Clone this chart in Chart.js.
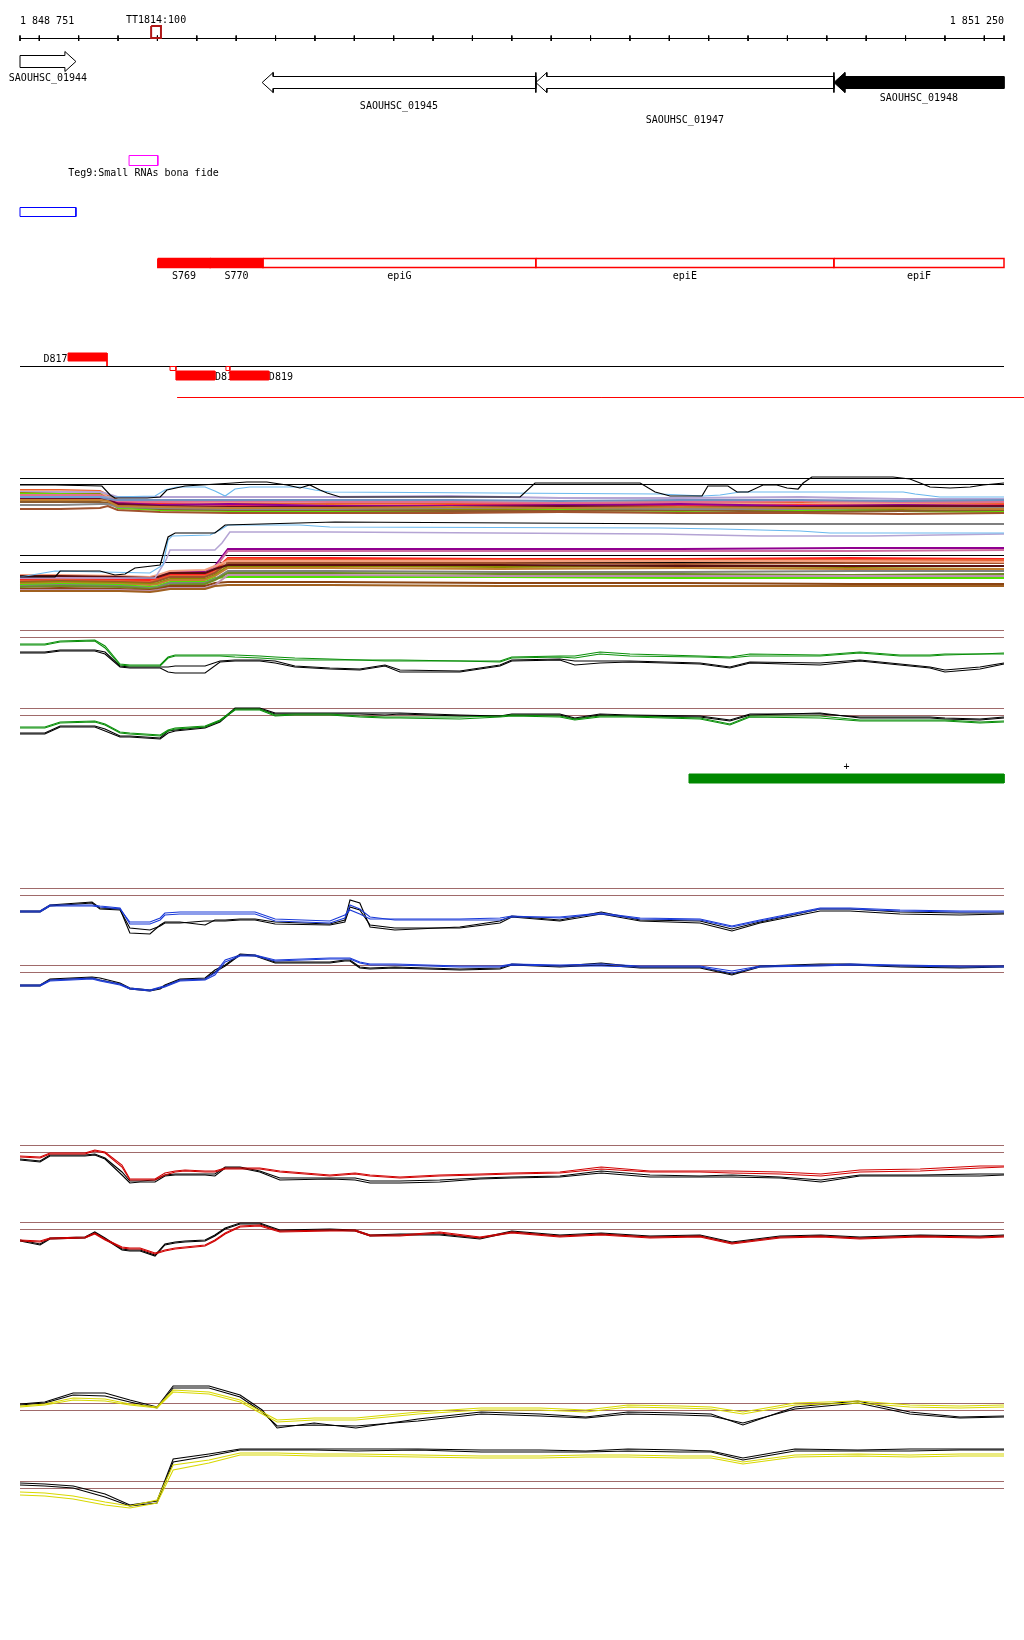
<!DOCTYPE html>
<html lang="pt-br">
<head>
<meta charset="utf-8">
<title>SAOUHSC_01944 - SAOUHSC_01948</title>
<script src="https://cdn.jsdelivr.net/npm/chart.js@4.4.1/dist/chart.umd.min.js"></script>
<style>
    html, body { margin: 0; padding: 0; background: #ffffff; }
    canvas { display: block; }
</style>
</head>
<body>
<canvas id="chart_genoma" width="1024" height="1640"></canvas>
<script>
// TRECHO DO GENOMA (pb)
const inicio = 1848751;
const fim = 1851250;
const marcas_regua = [];
for (var p = 1848800; p < fim; p += 100) { marcas_regua.push(p); }
const rotulos_regua = ['1 848 751', '1 851 250'];

// GENES
const genes_nome = ['SAOUHSC_01944', 'SAOUHSC_01945', 'SAOUHSC_01947', 'SAOUHSC_01948'];
const genes_inicio = [1848751, 1849366, 1850061, 1850818];
const genes_fim = [1848893, 1850061, 1850818, 1851250];
const genes_fita = ['+', '-', '-', '-'];

// TERMINADOR E RNA PEQUENO
const terminador = ['TT1814:100', 1849084, 1849109];
const rna_pequeno = ['Teg9:Small RNAs bona fide', 1849028, 1849101];
const caixa_azul = [1848751, 1848893];

// REGIOES (faixa vermelha)
const regioes_nome = ['S769', 'S770', 'epiG', 'epiE', 'epiF'];
const regioes_inicio = [1849101, 1849234, 1849368, 1850061, 1850818];
const regioes_fim = [1849234, 1849368, 1850061, 1850818, 1851250];
const regioes_cheia = [true, true, false, false, false];

const dmarcas_nome = ['D817', 'D818', 'D819'];
const dmarcas_inicio = [1848873, 1849147, 1849284];
const dmarcas_fim = [1848972, 1849246, 1849383];
const linha_vermelha = [1849150, 1851320];
const barra_verde = ['+', 1850450, 1851250];

// FAIXAS DENSAS
const denso1_x = [1848751, 1848853, 1848954, 1848974, 1848999, 1849107, 1849284, 1849538, 1849843, 1850122, 1850427, 1850732, 1850986, 1851250];
const denso1_valores = [
    [490, 490, 491, 495, 500, 501, 503, 504, 503, 503, 502, 503, 504, 503],
    [491, 491, 492, 497, 502, 503, 502, 501, 502, 503, 503, 504, 503, 502],
    [492, 492, 492, 494, 497, 497, 497, 497, 496, 498, 498, 497, 499, 499],
    [493, 494, 494, 499, 505, 508, 508, 510, 509, 509, 510, 508, 510, 511],
    [494, 494, 495, 500, 508, 510, 511, 511, 512, 510, 511, 510, 511, 512],
    [496, 496, 496, 499, 503, 504, 505, 506, 505, 504, 506, 505, 506, 505],
    [497, 497, 497, 500, 503, 505, 504, 506, 506, 505, 504, 506, 505, 506],
    [502, 502, 502, 503, 506, 509, 510, 510, 511, 511, 510, 512, 511, 510],
    [505, 505, 504, 504, 507, 508, 509, 509, 508, 508, 509, 509, 508, 508],
    [509, 509, 508, 506, 510, 512, 513, 513, 513, 512, 513, 513, 514, 513],
    [495, 495, 495, 498, 501, 502, 501, 502, 502, 503, 502, 501, 502, 502],
    [498, 498, 498, 500, 504, 506, 507, 507, 507, 506, 507, 507, 506, 506],
    [500, 500, 500, 501, 506, 507, 508, 508, 507, 508, 507, 508, 508, 509],
    [497, 497, 497, 499, 500, 500, 500, 500, 500, 501, 500, 500, 501, 500]
];
const denso1_cores = ['#e8602c', '#f4a080', '#b4a4d4', '#8a8a00', '#60e000', '#ff3333', '#900090',
    '#8b5a2b', '#888888', '#a0522d', '#e07090', '#6a0a2a', '#c08030', '#7090c0'];
const denso1_preto_x = [1848751, 1848840, 1848959, 1848980, 1848992, 1849074, 1849107, 1849124, 1849170, 1849292,
    1849327, 1849378, 1849394, 1849429, 1849462, 1849487, 1849513, 1849531, 1849564, 1850021,
    1850059, 1850326, 1850364, 1850402, 1850483, 1850498, 1850549, 1850572, 1850600, 1850638,
    1850673, 1850699, 1850727, 1850740, 1850762, 1850968, 1851011, 1851037, 1851062, 1851113,
    1851164, 1851197, 1851250];
const denso1_preto_y = [485, 485, 486, 495, 498, 498, 497, 490, 486, 483,
    482, 482, 483, 485, 488, 485, 490, 493, 497, 497,
    483, 483, 492, 496, 496, 486, 486, 492, 492, 485,
    485, 488, 489, 483, 477, 477, 479, 483, 487, 488,
    487, 485, 483];
const denso1_celeste_x = [1848751, 1848980, 1849094, 1849119, 1849150, 1849221, 1849246, 1849272, 1849297, 1849335,
    1849462, 1849500, 1849538, 1850376, 1850486, 1850529, 1850580, 1850994, 1851024, 1851087, 1851250];
const denso1_celeste_y = [497, 497, 496, 490, 487, 487, 491, 496, 489, 487,
    487, 490, 492, 494, 496, 495, 492, 492, 494, 497, 497];

const denso2_x = [1848751, 1848853, 1849005, 1849081, 1849101, 1849132, 1849221, 1849246, 1849279, 1849538, 1849970, 1850427, 1850859, 1851250];
const denso2_valores = [
    [578, 576, 577, 578, 576, 572, 572, 566, 549, 549, 549, 549, 548, 548],
    [579, 577, 578, 579, 577, 574, 573, 568, 551, 551, 551, 551, 551, 550],
    [580, 579, 580, 580, 579, 575, 575, 570, 558, 558, 559, 559, 558, 559],
    [581, 580, 581, 582, 580, 576, 576, 572, 559, 560, 560, 560, 560, 560],
    [582, 581, 582, 583, 581, 577, 577, 573, 563, 563, 563, 564, 563, 563],
    [583, 582, 583, 584, 583, 579, 579, 575, 566, 566, 567, 566, 567, 566],
    [584, 583, 584, 585, 584, 580, 580, 576, 568, 568, 569, 568, 569, 569],
    [585, 584, 585, 587, 586, 582, 582, 578, 577, 577, 577, 578, 578, 578],
    [575, 575, 576, 577, 575, 571, 570, 566, 561, 561, 561, 561, 561, 562],
    [586, 585, 586, 588, 587, 583, 583, 579, 571, 571, 572, 572, 571, 571],
    [576, 576, 577, 578, 577, 573, 573, 569, 565, 565, 565, 566, 566, 566],
    [587, 586, 587, 589, 588, 585, 584, 580, 573, 573, 574, 574, 575, 574],
    [589, 588, 589, 590, 589, 586, 586, 583, 582, 582, 583, 583, 584, 584],
    [590, 590, 590, 591, 590, 588, 588, 585, 575, 575, 576, 576, 576, 576],
    [591, 591, 591, 592, 591, 589, 589, 586, 585, 585, 586, 586, 586, 586]
];
const denso2_cores = ['#900090', '#d070a0', '#ff2020', '#e86030', '#a0522d', '#8a8a00', '#c08030',
    '#50e000', '#f4a080', '#808080', '#5a1010', '#6b8e23', '#8b4513', '#c090b0', '#a06020'];
const denso2_preto_x = [1848751, 1848840, 1848853, 1848954, 1848992, 1849018, 1849043, 1849107, 1849127, 1849145, 1849246, 1849272, 1849551, 1850478, 1851250];
const denso2_preto_y = [577, 577, 571, 571, 575, 574, 568, 565, 537, 533, 533, 525, 522, 524, 524];
const denso2_celeste_x = [1848751, 1848840, 1849081, 1849114, 1849127, 1849137, 1849234, 1849259, 1849279, 1849462, 1849538, 1850376, 1850529, 1850732, 1850808, 1851250];
const denso2_celeste_y = [577, 571, 573, 565, 540, 536, 535, 530, 525, 525, 527, 528, 529, 531, 533, 533];
const denso2_lilas_x = [1848751, 1849094, 1849122, 1849132, 1849246, 1849264, 1849284, 1849538, 1850376, 1850630, 1850910, 1851250];
const denso2_lilas_y = [578, 578, 560, 550, 550, 543, 532, 532, 534, 536, 536, 534];

// PAINEIS VERDES
const verde_x = [1848751, 1848814, 1848853, 1848941, 1848967, 1849005, 1849030, 1849107, 1849127, 1849145,
    1849221, 1849259, 1849297, 1849360, 1849399, 1849449, 1849538, 1849614, 1849678, 1849716,
    1849868, 1849970, 1850000, 1850122, 1850160, 1850224, 1850300, 1850478, 1850554, 1850605,
    1850783, 1850884, 1850986, 1851062, 1851100, 1851189, 1851250];
const verde_limites = [630.5, 637.5, 708.5, 715.5];
const verde1_cor_a = [644, 644, 641, 640, 646, 664, 665, 665, 657, 655, 655, 655, 655, 656, 657, 658, 659, 660, 660, 660, 661, 661, 657, 656, 656, 652, 654, 656, 657, 654, 655, 652, 655, 655, 654, 654, 653];
const verde1_cor_b = [645, 645, 642, 641, 648, 665, 666, 666, 658, 656, 656, 656, 657, 658, 659, 660, 660, 660, 661, 661, 661, 662, 658, 657, 658, 654, 656, 657, 658, 656, 656, 653, 656, 656, 655, 654, 654];
const verde1_preto_a = [652, 652, 650, 650, 652, 666, 667, 667, 667, 666, 666, 661, 660, 660, 661, 666, 668, 669, 665, 670, 671, 665, 660, 659, 661, 661, 661, 663, 667, 662, 663, 660, 664, 667, 670, 667, 663];
const verde1_preto_b = [653, 653, 651, 651, 654, 667, 668, 668, 672, 673, 673, 662, 661, 661, 663, 667, 669, 670, 666, 672, 672, 666, 661, 660, 665, 663, 662, 664, 668, 663, 665, 661, 665, 668, 672, 669, 664];
const verde2_cor_a = [727, 727, 722, 721, 724, 732, 733, 735, 730, 728, 726, 720, 709, 709, 715, 714, 714, 716, 717, 717, 717, 716, 715, 716, 719, 716, 716, 718, 724, 716, 716, 720, 720, 720, 720, 722, 721];
const verde2_cor_b = [728, 728, 723, 722, 725, 733, 734, 736, 731, 729, 727, 721, 710, 710, 716, 715, 715, 717, 718, 718, 719, 717, 716, 717, 720, 717, 717, 719, 725, 717, 718, 721, 721, 721, 721, 723, 722];
const verde2_preto_a = [733, 733, 726, 726, 729, 736, 736, 738, 731, 730, 727, 721, 708, 708, 713, 713, 713, 713, 713, 713, 715, 716, 714, 714, 718, 714, 715, 716, 720, 714, 714, 717, 717, 717, 718, 719, 717];
const verde2_preto_b = [734, 734, 727, 727, 731, 737, 737, 739, 733, 731, 728, 722, 709, 709, 714, 714, 714, 714, 715, 714, 716, 716, 715, 715, 719, 715, 716, 717, 721, 715, 713, 718, 718, 718, 719, 720, 718];

// PAINEIS AZUIS
const azul_x = [1848751, 1848802, 1848827, 1848934, 1848954, 1849005, 1849030, 1849081, 1849107, 1849119,
    1849157, 1849221, 1849246, 1849272, 1849310, 1849348, 1849399, 1849538, 1849576, 1849589,
    1849614, 1849640, 1849703, 1849868, 1849970, 1850000, 1850122, 1850227, 1850326, 1850478,
    1850559, 1850630, 1850783, 1850859, 1850986, 1851138, 1851250];
const azul_limites = [888.5, 895.5, 965.5, 972.5];
const azul1_cor_a = [911, 911, 905, 905, 906, 908, 924, 924, 920, 915, 914, 914, 914, 914, 914, 914, 921, 923, 918, 905, 909, 917, 920, 920, 920, 917, 917, 913, 918, 919, 926, 920, 908, 908, 910, 911, 911];
const azul1_cor_b = [912, 912, 906, 906, 907, 909, 922, 922, 918, 913, 912, 912, 912, 912, 912, 912, 919, 921, 915, 910, 914, 919, 919, 919, 918, 916, 918, 914, 919, 920, 927, 921, 909, 909, 911, 912, 912];
const azul1_preto_a = [911, 911, 905, 902, 908, 909, 933, 934, 925, 922, 922, 925, 920, 920, 919, 919, 922, 924, 920, 900, 903, 927, 930, 927, 921, 916, 920, 912, 920, 921, 929, 922, 909, 909, 912, 913, 913];
const azul1_preto_b = [912, 912, 906, 903, 909, 910, 928, 930, 926, 923, 923, 921, 921, 921, 920, 920, 924, 925, 922, 907, 910, 925, 928, 928, 923, 917, 921, 914, 921, 923, 931, 923, 911, 911, 914, 915, 914];
const azul2_cor_a = [985, 985, 980, 978, 980, 984, 988, 990, 987, 986, 980, 979, 973, 960, 955, 955, 960, 958, 958, 958, 962, 964, 964, 966, 966, 964, 965, 964, 966, 966, 971, 966, 965, 964, 965, 966, 966];
const azul2_cor_b = [986, 986, 981, 979, 981, 985, 989, 991, 988, 987, 981, 980, 975, 962, 956, 956, 961, 959, 959, 959, 963, 965, 965, 967, 967, 965, 966, 966, 967, 967, 973, 967, 966, 965, 966, 967, 967];
const azul2_preto_a = [985, 985, 979, 977, 978, 983, 988, 990, 988, 985, 979, 978, 970, 965, 954, 955, 962, 962, 960, 960, 967, 968, 967, 969, 968, 964, 966, 963, 967, 967, 974, 966, 964, 964, 966, 967, 966];
const azul2_preto_b = [986, 986, 980, 978, 980, 984, 989, 991, 989, 986, 980, 979, 972, 966, 955, 956, 963, 963, 961, 961, 968, 969, 968, 970, 969, 965, 967, 965, 968, 968, 975, 967, 965, 965, 967, 968, 967];

// PAINEIS VERMELHOS
const vermelho_x = [1848751, 1848802, 1848827, 1848916, 1848941, 1848967, 1849010, 1849030, 1849056, 1849094,
    1849119, 1849145, 1849170, 1849221, 1849246, 1849272, 1849310, 1849360, 1849411, 1849538,
    1849602, 1849640, 1849716, 1849817, 1849919, 1850000, 1850122, 1850227, 1850351, 1850478,
    1850559, 1850681, 1850785, 1850884, 1851037, 1851189, 1851250];
const vermelho_limites = [1145.5, 1152.5, 1222.5, 1229.5];
const vermelho1_cor_a = [1156, 1157, 1153, 1153, 1150, 1152, 1165, 1179, 1179, 1179, 1173, 1171, 1170, 1171, 1171, 1168, 1168, 1168, 1171, 1175, 1173, 1175, 1177, 1175, 1174, 1173, 1172, 1167, 1171, 1171, 1171, 1172, 1174, 1170, 1169, 1166, 1166];
const vermelho1_cor_b = [1157, 1158, 1154, 1154, 1151, 1153, 1167, 1180, 1180, 1180, 1175, 1172, 1171, 1172, 1172, 1169, 1169, 1169, 1172, 1176, 1174, 1176, 1178, 1176, 1175, 1174, 1173, 1169, 1172, 1172, 1173, 1174, 1176, 1172, 1171, 1168, 1167];
const vermelho1_preto_a = [1160, 1162, 1156, 1156, 1155, 1159, 1175, 1183, 1182, 1182, 1176, 1175, 1175, 1175, 1176, 1168, 1168, 1172, 1180, 1179, 1180, 1183, 1183, 1182, 1179, 1178, 1177, 1173, 1177, 1177, 1177, 1178, 1182, 1176, 1176, 1176, 1175];
const vermelho1_preto_b = [1159, 1161, 1155, 1155, 1154, 1158, 1172, 1181, 1181, 1180, 1175, 1174, 1174, 1174, 1174, 1167, 1167, 1171, 1178, 1178, 1178, 1181, 1181, 1180, 1178, 1177, 1176, 1171, 1175, 1176, 1175, 1177, 1180, 1175, 1175, 1174, 1174];
const vermelho2_cor_a = [1240, 1241, 1238, 1237, 1233, 1239, 1247, 1248, 1248, 1253, 1250, 1248, 1247, 1245, 1240, 1233, 1226, 1225, 1231, 1230, 1230, 1235, 1235, 1232, 1237, 1232, 1236, 1234, 1237, 1236, 1243, 1237, 1236, 1238, 1236, 1237, 1236];
const vermelho2_cor_b = [1241, 1242, 1239, 1238, 1234, 1240, 1248, 1249, 1249, 1254, 1251, 1249, 1248, 1246, 1241, 1234, 1227, 1226, 1232, 1231, 1231, 1236, 1236, 1233, 1238, 1233, 1237, 1235, 1238, 1237, 1244, 1238, 1237, 1239, 1237, 1238, 1237];
const vermelho2_preto_a = [1240, 1244, 1238, 1237, 1232, 1238, 1249, 1250, 1250, 1255, 1244, 1242, 1241, 1240, 1235, 1228, 1223, 1223, 1230, 1229, 1230, 1235, 1234, 1234, 1238, 1231, 1235, 1233, 1236, 1235, 1242, 1236, 1235, 1237, 1235, 1236, 1235];
const vermelho2_preto_b = [1241, 1245, 1239, 1238, 1233, 1239, 1250, 1251, 1251, 1256, 1245, 1243, 1242, 1241, 1236, 1229, 1224, 1224, 1231, 1230, 1231, 1236, 1235, 1235, 1239, 1232, 1236, 1234, 1237, 1236, 1243, 1237, 1236, 1238, 1236, 1237, 1236];

// PAINEIS AMARELOS
const amarelo_x = [1848751, 1848814, 1848886, 1848967, 1849030, 1849099, 1849140, 1849231, 1849310, 1849366,
    1849404, 1849498, 1849604, 1849762, 1849922, 1850072, 1850188, 1850295, 1850427, 1850506,
    1850587, 1850719, 1850879, 1851011, 1851138, 1851250];
const amarelo_limites = [1403.5, 1410.5, 1481.5, 1488.5];
const amarelo1_preto_a = [1404, 1402, 1393, 1393, 1400, 1407, 1386, 1386, 1395, 1410, 1428, 1423, 1428, 1419, 1412, 1414, 1417, 1412, 1413, 1414, 1425, 1407, 1401, 1412, 1417, 1416];
const amarelo1_preto_b = [1405, 1403, 1395, 1396, 1402, 1408, 1388, 1388, 1397, 1412, 1426, 1425, 1426, 1421, 1414, 1416, 1418, 1414, 1415, 1416, 1423, 1409, 1403, 1414, 1418, 1417];
const amarelo1_cor_a = [1406, 1404, 1398, 1399, 1404, 1407, 1390, 1392, 1400, 1412, 1420, 1418, 1418, 1412, 1408, 1408, 1410, 1405, 1406, 1407, 1412, 1403, 1401, 1405, 1406, 1405];
const amarelo1_cor_b = [1407, 1405, 1400, 1401, 1405, 1408, 1392, 1394, 1402, 1414, 1422, 1420, 1420, 1414, 1410, 1410, 1412, 1407, 1408, 1409, 1414, 1405, 1403, 1407, 1408, 1407];
const amarelo2_preto_a = [1483, 1484, 1486, 1494, 1505, 1501, 1459, 1454, 1449, 1449, 1449, 1449, 1449, 1449, 1450, 1450, 1451, 1449, 1450, 1451, 1458, 1449, 1450, 1449, 1449, 1449];
const amarelo2_preto_b = [1485, 1486, 1488, 1497, 1506, 1503, 1462, 1456, 1450, 1450, 1450, 1450, 1451, 1450, 1452, 1452, 1452, 1451, 1452, 1452, 1460, 1451, 1451, 1451, 1450, 1450];
const amarelo2_cor_a = [1492, 1493, 1496, 1502, 1506, 1500, 1465, 1460, 1453, 1453, 1453, 1454, 1454, 1455, 1456, 1456, 1455, 1455, 1456, 1456, 1462, 1455, 1454, 1455, 1454, 1454];
const amarelo2_cor_b = [1495, 1496, 1499, 1505, 1508, 1503, 1470, 1463, 1455, 1455, 1455, 1456, 1456, 1457, 1458, 1458, 1457, 1457, 1458, 1458, 1464, 1457, 1456, 1457, 1456, 1456];


// LAYOUT (pixels da tela)
const bpPorPx = (fim - inicio) / 984;
const genes_y = [61.5, 82.5, 82.5, 82.5];
const genes_rotulo_y = [81, 109, 122.5, 101];
const genes_cheio = [false, false, false, true];
const cor_limite = '#a06a6a';

var conjuntos = [];

function serie(xs, ys, cor, largura) {
    return {
        data: xs.map(function (x, i) { return { x: x, y: ys[i] }; }),
        borderColor: cor,
        borderWidth: largura || 1,
        pointRadius: 0,
        fill: false,
        tension: 0
    };
}

function caixa(x0, x1, y0, y1, cor, cheia, largura) {
    return {
        data: [{ x: x0, y: y0 }, { x: x1, y: y0 }, { x: x1, y: y1 }, { x: x0, y: y1 }, { x: x0, y: y0 }],
        borderColor: cor,
        backgroundColor: cor,
        borderWidth: largura || 1,
        fill: cheia ? 'shape' : false,
        pointRadius: 0,
        tension: 0
    };
}

function seta(ini, fimG, fita, yc, cheia) {
    var cab = 11 * bpPorPx;
    var c = 6, h = 10;
    var xs, ys;
    if (fita == '+') {
        xs = [ini, fimG - cab, fimG - cab, fimG, fimG - cab, fimG - cab, ini, ini];
        ys = [yc - c, yc - c, yc - h, yc, yc + h, yc + c, yc + c, yc - c];
    } else {
        xs = [ini, ini + cab, ini + cab, fimG, fimG, ini + cab, ini + cab, ini];
        ys = [yc, yc - h, yc - c, yc - c, yc + c, yc + c, yc + h, yc];
    }
    var s = serie(xs, ys, '#000000', 1);
    if (cheia) {
        s.fill = 'shape';
        s.backgroundColor = '#000000';
    }
    return s;
}

function painel(xs, limites, linhas, cor) {
    limites.forEach(function (v) {
        conjuntos.push(serie([inicio, fim], [v, v], cor_limite, 1));
    });
    linhas.forEach(function (l, i) {
        conjuntos.push(serie(xs, l, i < 2 ? '#000000' : cor, 1.1));
    });
}

// REGUA
conjuntos.push(serie([inicio, fim], [38.5, 38.5], '#000000', 1));
var tracos = [];
marcas_regua.concat([inicio, fim]).forEach(function (m) {
    tracos.push({ x: m, y: 35.5 }, { x: m, y: 41 }, { x: m, y: null });
});
conjuntos.push({ data: tracos, borderColor: '#000000', borderWidth: 1, pointRadius: 0, fill: false, spanGaps: false });
conjuntos.push(caixa(terminador[1], terminador[2], 26, 38, '#b01818', false, 2));

// GENES
for (var i = 0; i < genes_nome.length; i++) {
    conjuntos.push(seta(genes_inicio[i], genes_fim[i], genes_fita[i], genes_y[i], genes_cheio[i]));
    if (genes_fita[i] == '-' && !genes_cheio[i]) {
        conjuntos.push(serie([genes_fim[i], genes_fim[i]], [genes_y[i] - 10, genes_y[i] + 10], '#000000', 1));
    }
}

conjuntos.push(caixa(rna_pequeno[1], rna_pequeno[2], 155.5, 165.5, '#ff00ff', false, 1));
conjuntos.push(caixa(caixa_azul[0], caixa_azul[1], 207.5, 216.5, '#0000ff', false, 1));

for (var i = 0; i < regioes_nome.length; i++) {
    conjuntos.push(caixa(regioes_inicio[i], regioes_fim[i], 258.5, 267.5, '#ff0000', regioes_cheia[i], 1.5));
}

// D817 - D819
conjuntos.push(serie([inicio, fim], [366.5, 366.5], '#000000', 1));
conjuntos.push(caixa(dmarcas_inicio[0], dmarcas_fim[0], 353, 361, '#ff0000', true, 1));
conjuntos.push(serie([dmarcas_fim[0], dmarcas_fim[0]], [361, 366], '#ff0000', 1));
conjuntos.push(caixa(1849132, dmarcas_inicio[1], 366.5, 370.5, '#ff0000', false, 1));
conjuntos.push(caixa(1849274, dmarcas_inicio[2], 366.5, 370.5, '#ff0000', false, 1));
conjuntos.push(caixa(dmarcas_inicio[1], dmarcas_fim[1], 371, 380, '#ff0000', true, 1));
conjuntos.push(caixa(dmarcas_inicio[2], dmarcas_fim[2], 371, 380, '#ff0000', true, 1));
conjuntos.push(serie(linha_vermelha, [397.5, 397.5], '#ff0000', 1));

// FAIXAS DENSAS
[478.5, 484.5, 555.5, 562.5].forEach(function (v) {
    conjuntos.push(serie([inicio, fim], [v, v], '#000000', 1));
});
denso1_valores.forEach(function (l, i) { conjuntos.push(serie(denso1_x, l, denso1_cores[i], 2)); });
conjuntos.push(serie(denso1_celeste_x, denso1_celeste_y, '#6ab8ee', 1.2));
conjuntos.push(serie(denso1_preto_x, denso1_preto_y, '#000000', 1.2));
denso2_valores.forEach(function (l, i) { conjuntos.push(serie(denso2_x, l, denso2_cores[i], 2)); });
conjuntos.push(serie(denso2_lilas_x, denso2_lilas_y, '#b4a4d4', 1.5));
conjuntos.push(serie(denso2_celeste_x, denso2_celeste_y, '#6ab8ee', 1.2));
conjuntos.push(serie(denso2_preto_x, denso2_preto_y, '#000000', 1.2));

// PAINEIS DE LINHAS
painel(verde_x, verde_limites, [verde1_preto_a, verde1_preto_b, verde1_cor_a, verde1_cor_b], '#0a8f0a');
painel(verde_x, [], [verde2_preto_a, verde2_preto_b, verde2_cor_a, verde2_cor_b], '#0a8f0a');
conjuntos.push(caixa(barra_verde[1], barra_verde[2], 774, 783, '#008800', true, 1));
painel(azul_x, azul_limites, [azul1_preto_a, azul1_preto_b, azul1_cor_a, azul1_cor_b], '#1a3ad8');
painel(azul_x, [], [azul2_preto_a, azul2_preto_b, azul2_cor_a, azul2_cor_b], '#1a3ad8');
painel(vermelho_x, vermelho_limites, [vermelho1_preto_a, vermelho1_preto_b, vermelho1_cor_a, vermelho1_cor_b], '#d00000');
painel(vermelho_x, [], [vermelho2_preto_a, vermelho2_preto_b, vermelho2_cor_a, vermelho2_cor_b], '#d00000');
painel(amarelo_x, amarelo_limites, [amarelo1_preto_a, amarelo1_preto_b, amarelo1_cor_a, amarelo1_cor_b], '#d8d800');
painel(amarelo_x, [], [amarelo2_preto_a, amarelo2_preto_b, amarelo2_cor_a, amarelo2_cor_b], '#d8d800');

// TEXTOS
var textos = [
    [rotulos_regua[0], inicio, 24, 'left'],
    [rotulos_regua[1], fim, 24, 'right'],
    [terminador[0], (terminador[1] + terminador[2]) / 2, 23, 'center'],
    [rna_pequeno[0], (rna_pequeno[1] + rna_pequeno[2]) / 2, 176, 'center'],
    [dmarcas_nome[0], dmarcas_inicio[0] - 1, 362, 'right'],
    [dmarcas_nome[1], dmarcas_fim[1], 380, 'left'],
    [dmarcas_nome[2], dmarcas_fim[2], 380, 'left'],
    [barra_verde[0], (barra_verde[1] + barra_verde[2]) / 2, 770, 'center']
];
for (var i = 0; i < genes_nome.length; i++) {
    textos.push([genes_nome[i], (genes_inicio[i] + genes_fim[i]) / 2, genes_rotulo_y[i], 'center']);
}
for (var i = 0; i < regioes_nome.length; i++) {
    textos.push([regioes_nome[i], (regioes_inicio[i] + regioes_fim[i]) / 2, 279, 'center']);
}

const pluginTextos = {
    id: 'textos',
    beforeDatasetsDraw(chart) {
        const ctx = chart.ctx;
        const sx = chart.scales.x;
        const sy = chart.scales.y;
        ctx.save();
        ctx.font = '10px "DejaVu Sans Mono"';
        ctx.fillStyle = '#000000';
        ctx.textBaseline = 'alphabetic';
        textos.forEach(function (t) {
            ctx.textAlign = t[3];
            ctx.fillText(t[0], sx.getPixelForValue(t[1]), sy.getPixelForValue(t[2]));
        });
        ctx.restore();
    }
};

// GRAFICO
const ctxGenoma = document.getElementById('chart_genoma');
new Chart(ctxGenoma, {
    type: 'line',
    data: { datasets: conjuntos.reverse() },
    options: {
        responsive: false,
        animation: false,
        devicePixelRatio: 1,
        events: [],
        layout: { padding: 0 },
        scales: {
            x: { type: 'linear', min: inicio - 20 * bpPorPx, max: inicio + 1004 * bpPorPx, display: false },
            y: { type: 'linear', min: 0, max: 1640, reverse: true, display: false }
        },
        plugins: {
            legend: { display: false },
            tooltip: { enabled: false }
        }
    },
    plugins: [pluginTextos]
});
</script>
</body>
</html>
